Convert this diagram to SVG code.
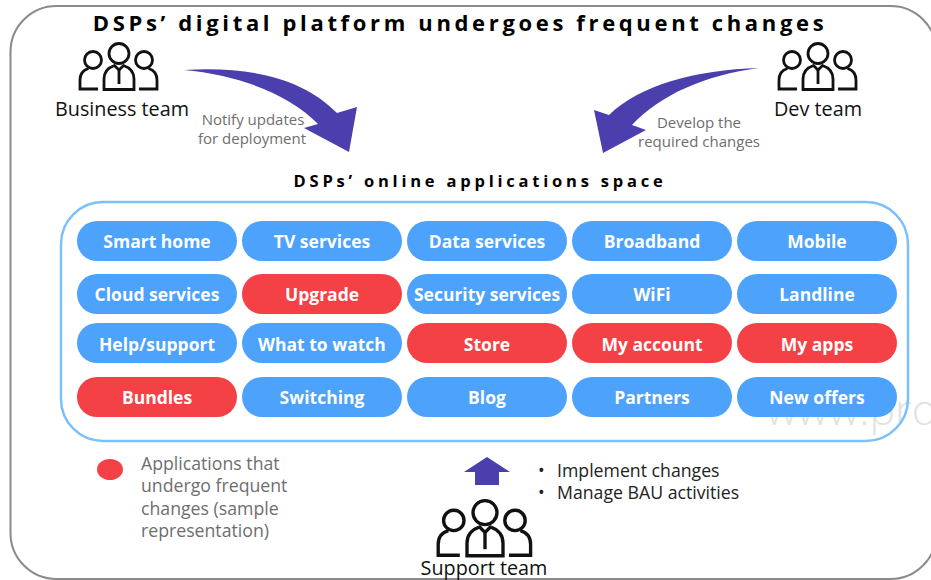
<svg xmlns="http://www.w3.org/2000/svg" width="931" height="580" viewBox="0 0 931 580">
<style>
text{font-family:"Open Sans","Noto Sans","Liberation Sans",sans-serif}
.pill{stroke:none}
.b{fill:#4da2fb}
.r{fill:#f44146}
.pt{fill:#fff;font-size:17.500px;font-weight:700;text-anchor:middle}
.lbl{fill:#111;font-size:19.800px;text-anchor:middle}
.note{fill:#6e6e6e;font-size:15px;text-anchor:middle}
.leg{fill:#6e6e6e;font-size:17.700px}
.bul{fill:#222;font-size:17.700px}
.arrow{fill:#4b3fae}
.ic{fill:none;stroke:#111;stroke-width:2.800}
</style>
<defs>
<g id="people" class="ic">
<circle cx="40" cy="10.5" r="10"/>
<path d="M25 46.5V36Q25 26 35.5 22.5L40 27L44.5 22.5Q55 26 55 36V46.5Z"/>
<path d="M40 27V41"/>
<circle cx="14" cy="17" r="8.5"/>
<path d="M19 46H1V37Q1 28 9.5 25.5"/>
<circle cx="65" cy="17" r="8.5"/>
<path d="M60 46H78V37Q78 28 69.5 25.5"/>
</g>
</defs>
<rect id="frame" x="10.500" y="6" width="926" height="573" rx="46" fill="#fff" stroke="#8a8a8a" stroke-width="2"/>
<text x="766" y="425" font-size="43" font-weight="300" fill="#e2e2e2">www.pro</text>
<text id="title" x="460" y="31" text-anchor="middle" font-size="22" font-weight="700" letter-spacing="3.650" fill="#000">DSPs’ digital platform undergoes frequent changes</text>
<g id="business-team"><use href="#people" transform="translate(79 43)"/><text class="lbl" x="122" y="116">Business team</text></g>
<g id="dev-team"><use href="#people" transform="translate(778 43)"/><text class="lbl" x="818" y="116">Dev team</text></g>
<g id="support-team"><use href="#people" transform="translate(437 500) scale(1.2)"/><text class="lbl" x="484" y="575">Support team</text></g>
<g id="connectors">
<path class="arrow" d="M184 70C250 66 303 78 337 113L357 107L349 152L304 128L318 124C290 95 240 75 184 70Z"/>
<path class="arrow" d="M759 68C695 70 640 85 609 115L594 110L603 153L646 130L632 125C660 95 705 75 759 68Z"/>
<path class="arrow" d="M487 457L510 472H499V485H475V472H464Z"/>
</g>
<text class="note" x="253" y="125">Notify updates</text>
<text class="note" x="252" y="144">for deployment</text>
<text class="note" x="699" y="128">Develop the</text>
<text class="note" x="699" y="147">required changes</text>
<text id="subtitle" x="480" y="187" text-anchor="middle" font-size="16.500" font-weight="700" letter-spacing="3.780" fill="#000">DSPs’ online applications space</text>
<rect id="space" x="61" y="202" width="847" height="239" rx="42" fill="none" stroke="#7cc0f9" stroke-width="2.500"/>
<g id="n1"><rect class="pill b" x="77" y="221" width="160" height="40" rx="20"/><text class="pt" x="157" y="248">Smart home</text></g>
<g id="n2"><rect class="pill b" x="242" y="221" width="160" height="40" rx="20"/><text class="pt" x="322" y="248">TV services</text></g>
<g id="n3"><rect class="pill b" x="407" y="221" width="160" height="40" rx="20"/><text class="pt" x="487" y="248">Data services</text></g>
<g id="n4"><rect class="pill b" x="572" y="221" width="160" height="40" rx="20"/><text class="pt" x="652" y="248">Broadband</text></g>
<g id="n5"><rect class="pill b" x="737" y="221" width="160" height="40" rx="20"/><text class="pt" x="817" y="248">Mobile</text></g>
<g id="n6"><rect class="pill b" x="77" y="274" width="160" height="40" rx="20"/><text class="pt" x="157" y="301">Cloud services</text></g>
<g id="n7"><rect class="pill r" x="242" y="274" width="160" height="40" rx="20"/><text class="pt" x="322" y="301">Upgrade</text></g>
<g id="n8"><rect class="pill b" x="407" y="274" width="160" height="40" rx="20"/><text class="pt" x="487" y="301">Security services</text></g>
<g id="n9"><rect class="pill b" x="572" y="274" width="160" height="40" rx="20"/><text class="pt" x="652" y="301">WiFi</text></g>
<g id="n10"><rect class="pill b" x="737" y="274" width="160" height="40" rx="20"/><text class="pt" x="817" y="301">Landline</text></g>
<g id="n11"><rect class="pill b" x="77" y="323" width="160" height="40" rx="20"/><text class="pt" x="157" y="351">Help/support</text></g>
<g id="n12"><rect class="pill b" x="242" y="323" width="160" height="40" rx="20"/><text class="pt" x="322" y="351">What to watch</text></g>
<g id="n13"><rect class="pill r" x="407" y="323" width="160" height="40" rx="20"/><text class="pt" x="487" y="351">Store</text></g>
<g id="n14"><rect class="pill r" x="572" y="323" width="160" height="40" rx="20"/><text class="pt" x="652" y="351">My account</text></g>
<g id="n15"><rect class="pill r" x="737" y="323" width="160" height="40" rx="20"/><text class="pt" x="817" y="351">My apps</text></g>
<g id="n16"><rect class="pill r" x="77" y="377" width="160" height="40" rx="20"/><text class="pt" x="157" y="404">Bundles</text></g>
<g id="n17"><rect class="pill b" x="242" y="377" width="160" height="40" rx="20"/><text class="pt" x="322" y="404">Switching</text></g>
<g id="n18"><rect class="pill b" x="407" y="377" width="160" height="40" rx="20"/><text class="pt" x="487" y="404">Blog</text></g>
<g id="n19"><rect class="pill b" x="572" y="377" width="160" height="40" rx="20"/><text class="pt" x="652" y="404">Partners</text></g>
<g id="n20"><rect class="pill b" x="737" y="377" width="160" height="40" rx="20"/><text class="pt" x="817" y="404">New offers</text></g>
<g id="legend"><ellipse cx="110" cy="469.500" rx="13" ry="10.500" fill="#f44146"/>
<text class="leg" x="141" y="470">Applications that</text><text class="leg" x="141" y="492">undergo frequent</text><text class="leg" x="141" y="515">changes (sample</text><text class="leg" x="141" y="537">representation)</text></g>
<g id="support-notes"><text class="bul" x="538" y="477">•</text><text class="bul" x="557" y="477">Implement changes</text><text class="bul" x="538" y="499">•</text><text class="bul" x="557" y="499">Manage BAU activities</text></g>
</svg>
